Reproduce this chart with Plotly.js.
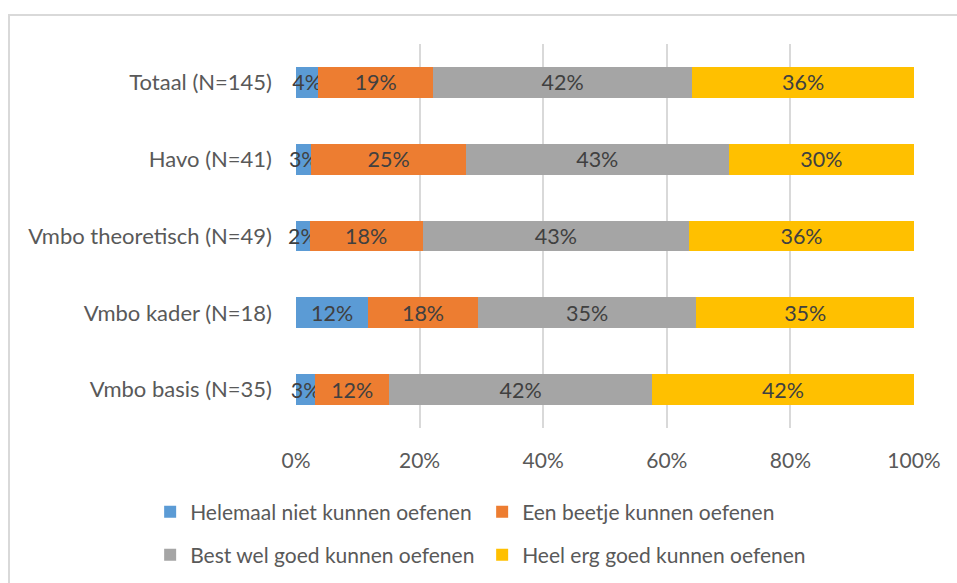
<!DOCTYPE html>
<html>
<head>
<meta charset="utf-8">
<script src="https://cdn.plot.ly/plotly-3.0.1.min.js"></script>
<style>
  html, body { margin: 0; padding: 0; background: #ffffff; overflow: hidden; }
  #wrap { position: relative; width: 957px; height: 583px; }
  #chart { width: 957px; height: 583px; }
  #frame { position: absolute; left: 8px; top: 14px; width: 1000px; height: 1000px;
           border: 2px solid #d9d9d9; box-sizing: border-box; pointer-events: none; }
</style>
</head>
<body>
<div id="wrap">
  <div id="chart"></div>
  <div id="frame"></div>
</div>
<script>
// Categories (top to bottom)
const categories = ["Totaal (N=145)", "Havo (N=41)", "Vmbo theoretisch (N=49)", "Vmbo kader (N=18)", "Vmbo basis (N=35)"];

// Series names
const seriesNames = ["Helemaal niet kunnen oefenen", "Een beetje kunnen oefenen", "Best wel goed kunnen oefenen", "Heel erg goed kunnen oefenen"];

// Values (percent)
const helemaalNiet = [3.6, 2.5, 2.2, 11.7, 3.1];
const eenBeetje    = [18.6, 25.0, 18.3, 17.7, 12.0];
const bestWelGoed  = [41.9, 42.5, 43.1, 35.4, 42.5];
const heelErgGoed  = [35.9, 30.0, 36.4, 35.2, 42.4];

// Data labels as shown in the chart
const labelsHelemaalNiet = ["4%", "3%", "2%", "12%", "3%"];
const labelsEenBeetje    = ["19%", "25%", "18%", "18%", "12%"];
const labelsBestWelGoed  = ["42%", "43%", "43%", "35%", "42%"];
const labelsHeelErgGoed  = ["36%", "30%", "36%", "35%", "42%"];

// X-axis ticks
const xTickVals = [0, 20, 40, 60, 80, 100];
const xTickText = ["0%", "20%", "40%", "60%", "80%", "100%"];

const colors = ["#5B9BD5", "#ED7D31", "#A5A5A5", "#FFC000"];
const legendIds = ["legend", "legend", "legend2", "legend2"];
const seriesValues = [helemaalNiet, eenBeetje, bestWelGoed, heelErgGoed];
const seriesLabels = [labelsHelemaalNiet, labelsEenBeetje, labelsBestWelGoed, labelsHeelErgGoed];

const FONT = "Lato, 'Open Sans', sans-serif";

const traces = seriesNames.map((name, i) => ({
  type: "bar",
  orientation: "h",
  name: name,
  legend: legendIds[i],
  x: seriesValues[i],
  y: categories,
  text: seriesLabels[i],
  texttemplate: "%{text}",
  textposition: "inside",
  insidetextanchor: "middle",
  textangle: 0,
  constraintext: "none",
  cliponaxis: false,
  textfont: { family: FONT, size: 21.5, color: "#404040" },
  marker: { color: colors[i], line: { width: 0 } },
  hoverinfo: "skip"
}));

const legendCommon = {
  orientation: "h",
  xref: "paper",
  x: -0.236,
  xanchor: "left",
  yref: "paper",
  yanchor: "middle",
  traceorder: "normal",
  entrywidth: 287,
  entrywidthmode: "pixels",
  bgcolor: "rgba(0,0,0,0)",
  font: { family: FONT, size: 21, color: "#595959" },
  itemclick: false,
  itemdoubleclick: false
};

const layout = {
  width: 957,
  height: 583,
  margin: { l: 296, r: 43, t: 44, b: 155, autoexpand: false },
  paper_bgcolor: "#ffffff",
  plot_bgcolor: "#ffffff",
  barmode: "stack",
  bargap: 0.6,
  font: { family: FONT, size: 21, color: "#595959" },
  showlegend: true,
  legend: Object.assign({}, legendCommon, { y: -0.219 }),
  legend2: Object.assign({}, legendCommon, { y: -0.331 }),
  xaxis: {
    range: [0, 100],
    tickvals: xTickVals,
    ticktext: xTickText,
    showgrid: true,
    gridcolor: "#d9d9d9",
    gridwidth: 2,
    zeroline: false,
    showline: false,
    ticks: "",
    ticklabelstandoff: 18,
    tickfont: { family: FONT, size: 21, color: "#595959" },
    fixedrange: true,
    automargin: false
  },
  yaxis: {
    type: "category",
    categoryorder: "array",
    categoryarray: categories,
    autorange: "reversed",
    showgrid: false,
    zeroline: false,
    showline: false,
    ticks: "",
    ticklabelstandoff: 23,
    tickfont: { family: FONT, size: 22, color: "#595959" },
    fixedrange: true,
    automargin: false
  }
};

Plotly.newPlot("chart", traces, layout, { displayModeBar: false, staticPlot: true });
</script>
</body>
</html>
